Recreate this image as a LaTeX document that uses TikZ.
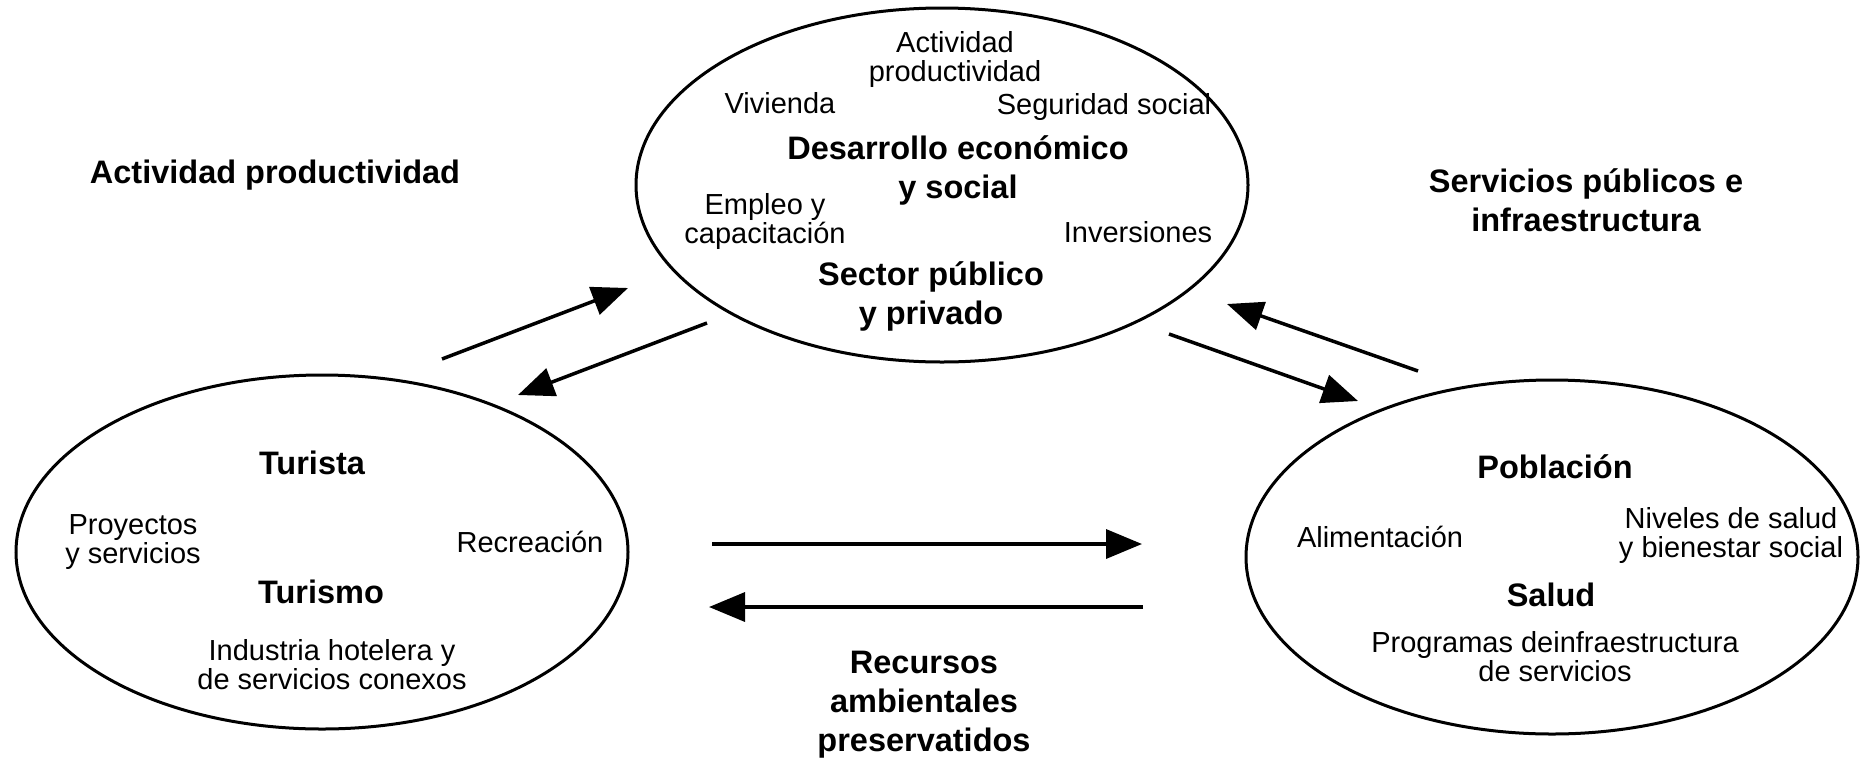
\documentclass[tikz,border=0pt]{standalone}
\usepackage{fontspec}
\setmainfont{Liberation Sans}
\usetikzlibrary{shapes.geometric,arrows.meta}
\begin{document}
\begin{tikzpicture}[x=1pt,y=-1pt,
  bubble/.style={ellipse,draw,line width=3pt,minimum width=612pt,minimum height=354pt,inner sep=0pt},
  small/.style={inner sep=0pt,align=center,font=\fontsize{29}{29}\selectfont},
  big/.style={inner sep=0pt,align=center,font=\fontsize{32.5}{39}\selectfont\bfseries},
  flow/.style={line width=3.5pt,-{Triangle[length=36pt,width=29pt]}}]
\useasboundingbox (0,0) rectangle (1860,761);
% ellipses
\node[bubble] (top) at (942,185) {};
\node[bubble] (left) at (322,552) {};
\node[bubble] (right) at (1552,557) {};
% top ellipse texts
\node[small] (act) at (955,59) {Actividad\\productividad};
\node[small] (viv) at (780,103) {Vivienda};
\node[small] (seg) at (1104,107) {Seguridad social};
\node[big] (des) at (958,170) {Desarrollo económico\\y social};
\node[small] (emp) at (765,221) {Empleo y\\capacitación};
\node[small] (inv) at (1138,232) {Inversiones};
\node[big] (sec) at (931,296) {Sector público\\y privado};
% left ellipse texts
\node[big] (tur) at (312,463) {Turista};
\node[small] (proy) at (133,542) {Proyectos\\y servicios};
\node[small] (rec) at (530,542) {Recreación};
\node[big] (tsm) at (321,592) {Turismo};
\node[small] (ind) at (332,665) {Industria hotelera y\\de servicios conexos};
% right ellipse texts
\node[big] (pob) at (1555,467) {Población};
\node[small] (ali) at (1380,537) {Alimentación};
\node[small] (niv) at (1731,535) {Niveles de salud\\y bienestar social};
\node[big] (sal) at (1551,595) {Salud};
\node[small] (prog) at (1555,657) {Programas deinfraestructura\\de servicios};
% outer labels
\node[big] (lab1) at (275,175) {Actividad productividad};
\node[big] (lab2) at (1586,200) {Servicios públicos e\\infraestructura};
\node[big] (lab3) at (924,705) {Recursos\\ambientales\\preservatidos};
% arrow end points
\coordinate (a1s) at (442,359); \coordinate (a1e) at (628,288);
\coordinate (a2s) at (707,323); \coordinate (a2e) at (518,395);
\coordinate (a3s) at (1169,334); \coordinate (a3e) at (1358,401);
\coordinate (a4s) at (1418,371); \coordinate (a4e) at (1227,304);
\coordinate (a5s) at (712,544); \coordinate (a5e) at (1142,544);
\coordinate (a6s) at (1143,607); \coordinate (a6e) at (709,607);
\draw[flow] (a1s) -- (a1e);
\draw[flow] (a2s) -- (a2e);
\draw[flow] (a3s) -- (a3e);
\draw[flow] (a4s) -- (a4e);
\draw[flow] (a5s) -- (a5e);
\draw[flow] (a6s) -- (a6e);
\end{tikzpicture}
\end{document}
